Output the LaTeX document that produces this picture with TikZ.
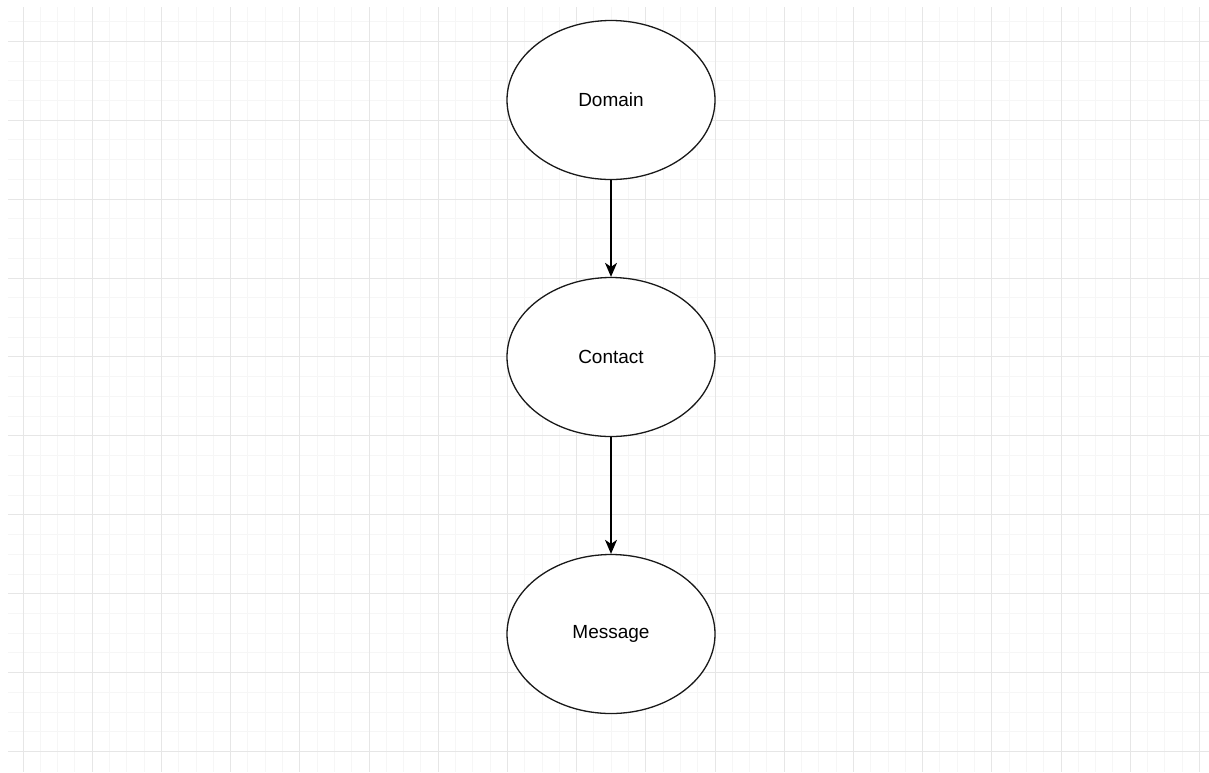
\documentclass[tikz,border=0pt]{standalone}
\usepackage{fontspec}
\setmainfont{Liberation Sans}
\usetikzlibrary{arrows.meta, shapes.geometric, positioning}

\definecolor{gridmajor}{RGB}{230,230,230}
\definecolor{gridminor}{RGB}{246,246,246}

\begin{document}
\begin{tikzpicture}[x=1pt, y=-1pt,
                    entity/.style={ellipse, draw=black!90, line width=1.3pt, fill=white,
                                   minimum width=208pt, minimum height=159pt, inner sep=0pt,
                                   font=\fontsize{19}{22}\selectfont},
                    link/.style={draw=black, line width=1.4pt, -{Stealth[length=14pt, width=12pt, inset=4pt]}}]
                    \useasboundingbox (0,0) rectangle (1209,772);
                    % background grid
                    \foreach \k in {0,...,68}
                        \draw[gridminor, line width=1pt] (23+\k*17.3,7) -- (23+\k*17.3,772);
                    \foreach \k in {-1,...,36}
                        \draw[gridminor, line width=1pt] (8,41.3+\k*19.73) -- (1209,41.3+\k*19.73);
                    \foreach \k in {0,4,...,68}
                        \draw[gridmajor, line width=1pt] (23+\k*17.3,7) -- (23+\k*17.3,772);
                    \foreach \k in {0,4,...,36}
                        \draw[gridmajor, line width=1pt] (8,41.3+\k*19.73) -- (1209,41.3+\k*19.73);
                    % entities
                    \node (Domain) [entity] at (611,100) {Domain};
                    \node (Contact) [entity] at (611,357) {Contact};
                    \node (Message) [entity] at (611,634) {Message};
                    \draw[link] (Domain.south) -- (Contact.north);
                    \draw[link] (Contact.south) -- (Message.north);
                \end{tikzpicture}
\end{document}
